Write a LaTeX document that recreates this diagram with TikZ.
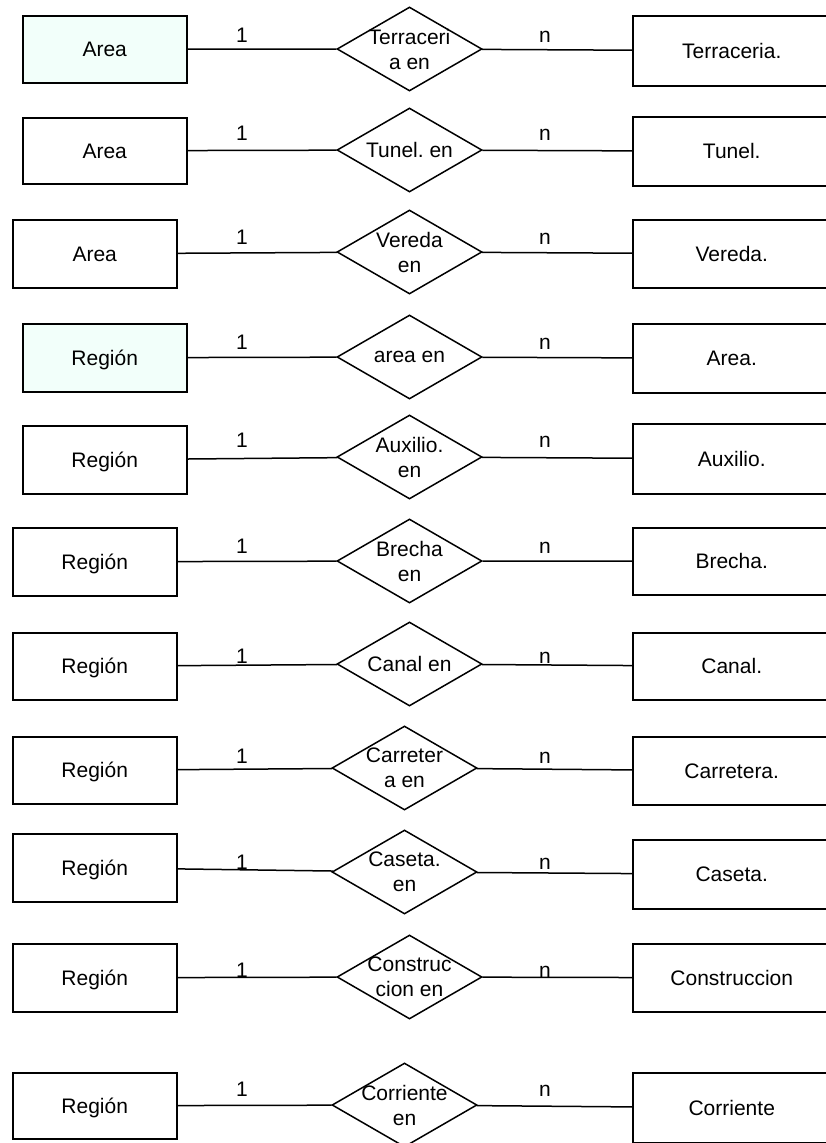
\documentclass[tikz,border=0pt]{standalone}
\usepackage{fontspec}
\setmainfont{Liberation Sans}
\usetikzlibrary{shapes.geometric}
\definecolor{mint}{RGB}{242,255,250}
\frenchspacing
\tikzset{
  txt/.style={font=\fontsize{21}{25}\selectfont},
  ent/.style={txt, draw, line width=1.5pt, inner sep=0pt, text height=15pt, text depth=0pt, anchor=north west},
  lent/.style={ent, minimum width=164pt},
  rent/.style={ent, minimum width=198pt},
  rel/.style={draw, shape=diamond, line width=1.5pt, inner sep=0pt, minimum width=145pt, minimum height=84pt},
  dtxt/.style={txt, align=center, inner sep=0pt},
  card/.style={txt, anchor=base, inner sep=0pt},
  link/.style={line width=1.5pt}
}
\begin{document}
\begin{tikzpicture}[x=1pt,y=-1pt]
\useasboundingbox (0,0) rectangle (826,1143);
\clip (0,0) rectangle (826,1143);

% Area -- Terraceria
\node[lent, fill=mint, minimum height=67pt] (l1) at (22,15) {Area};
\node[rel, label={[dtxt]center:{Terraceri\\a en}}] (d1) at (409.5,49) {};
\node[rent, minimum height=70pt] (r1) at (632,15) {Terraceria.};
\draw[link] (l1) -- (d1) -- (r1);
\node[card] (a1) at (242,42) {1};
\node[card] (b1) at (545,42) {n};

% Area -- Tunel
\node[lent, minimum height=66pt] (l2) at (22,117) {Area};
\node[rel, label={[dtxt]center:{Tunel. en}}] (d2) at (409.5,150) {};
\node[rent, minimum height=69pt] (r2) at (632,116) {Tunel.};
\draw[link] (l2) -- (d2) -- (r2);
\node[card] (a2) at (242,140) {1};
\node[card] (b2) at (545,140) {n};

% Area -- Vereda
\node[lent, minimum height=68pt] (l3) at (12,219) {Area};
\node[rel, label={[dtxt]center:{Vereda\\en}}] (d3) at (409.5,252) {};
\node[rent, minimum height=68pt] (r3) at (632,219) {Vereda.};
\draw[link] (l3) -- (d3) -- (r3);
\node[card] (a3) at (242,244) {1};
\node[card] (b3) at (545,244) {n};

% Region -- Area
\node[lent, fill=mint, minimum height=68pt] (l4) at (22,323) {Región};
\node[rel, label={[dtxt]center:{area en}}] (d4) at (409.5,357) {};
\node[rent, minimum height=69pt] (r4) at (632,323) {Area.};
\draw[link] (l4) -- (d4) -- (r4);
\node[card] (a4) at (242,349) {1};
\node[card] (b4) at (545,349) {n};

% Region -- Auxilio
\node[lent, minimum height=68pt] (l5) at (22,425) {Región};
\node[rel, label={[dtxt]center:{Auxilio.\\en}}] (d5) at (409.5,457) {};
\node[rent, minimum height=70pt] (r5) at (632,423) {Auxilio.};
\draw[link] (l5) -- (d5) -- (r5);
\node[card] (a5) at (242,447) {1};
\node[card] (b5) at (545,447) {n};

% Region -- Brecha
\node[lent, minimum height=68pt] (l6) at (12,527) {Región};
\node[rel, label={[dtxt]center:{Brecha\\en}}] (d6) at (409.5,561) {};
\node[rent, minimum height=67pt] (r6) at (632,527) {Brecha.};
\draw[link] (l6) -- (d6) -- (r6);
\node[card] (a6) at (242,553) {1};
\node[card] (b6) at (545,553) {n};

% Region -- Canal
\node[lent, minimum height=67pt] (l7) at (12,632) {Región};
\node[rel, label={[dtxt]center:{Canal en}}] (d7) at (409.5,664) {};
\node[rent, minimum height=67pt] (r7) at (632,632) {Canal.};
\draw[link] (l7) -- (d7) -- (r7);
\node[card] (a7) at (242,663) {1};
\node[card] (b7) at (545,663) {n};

% Region -- Carretera
\node[lent, minimum height=67pt] (l8) at (12,736) {Región};
\node[rel, label={[dtxt]center:{Carreter\\a en}}] (d8) at (404.5,768) {};
\node[rent, minimum height=68pt] (r8) at (632,736) {Carretera.};
\draw[link] (l8) -- (d8) -- (r8);
\node[card] (a8) at (242,763) {1};
\node[card] (b8) at (545,763) {n};

% Region -- Caseta
\node[lent, minimum height=68pt] (l9) at (12,833) {Región};
\node[rel, label={[dtxt]center:{Caseta.\\en}}] (d9) at (404.5,872) {};
\node[rent, minimum height=69pt] (r9) at (632,839) {Caseta.};
\draw[link] (l9) -- (d9) -- (r9);
\node[card] (a9) at (242,869) {1};
\node[card] (b9) at (545,869) {n};

% Region -- Construccion
\node[lent, minimum height=68pt] (l10) at (12,943) {Región};
\node[rel, label={[dtxt]center:{Construc\\cion en}}] (d10) at (409.5,977) {};
\node[rent, minimum height=68pt] (r10) at (632,943) {Construccion};
\draw[link] (l10) -- (d10) -- (r10);
\node[card] (a10) at (242,977) {1};
\node[card] (b10) at (545,977) {n};

% Region -- Corriente
\node[lent, minimum height=66pt] (l11) at (12,1072) {Región};
\node[rel, label={[dtxt]center:{Corriente\\en}}] (d11) at (404.5,1105) {};
\node[rent, minimum height=70pt] (r11) at (632,1072) {Corriente};
\draw[link] (l11) -- (d11) -- (r11);
\node[card] (a11) at (242,1096) {1};
\node[card] (b11) at (545,1096) {n};
\end{tikzpicture}
\end{document}
